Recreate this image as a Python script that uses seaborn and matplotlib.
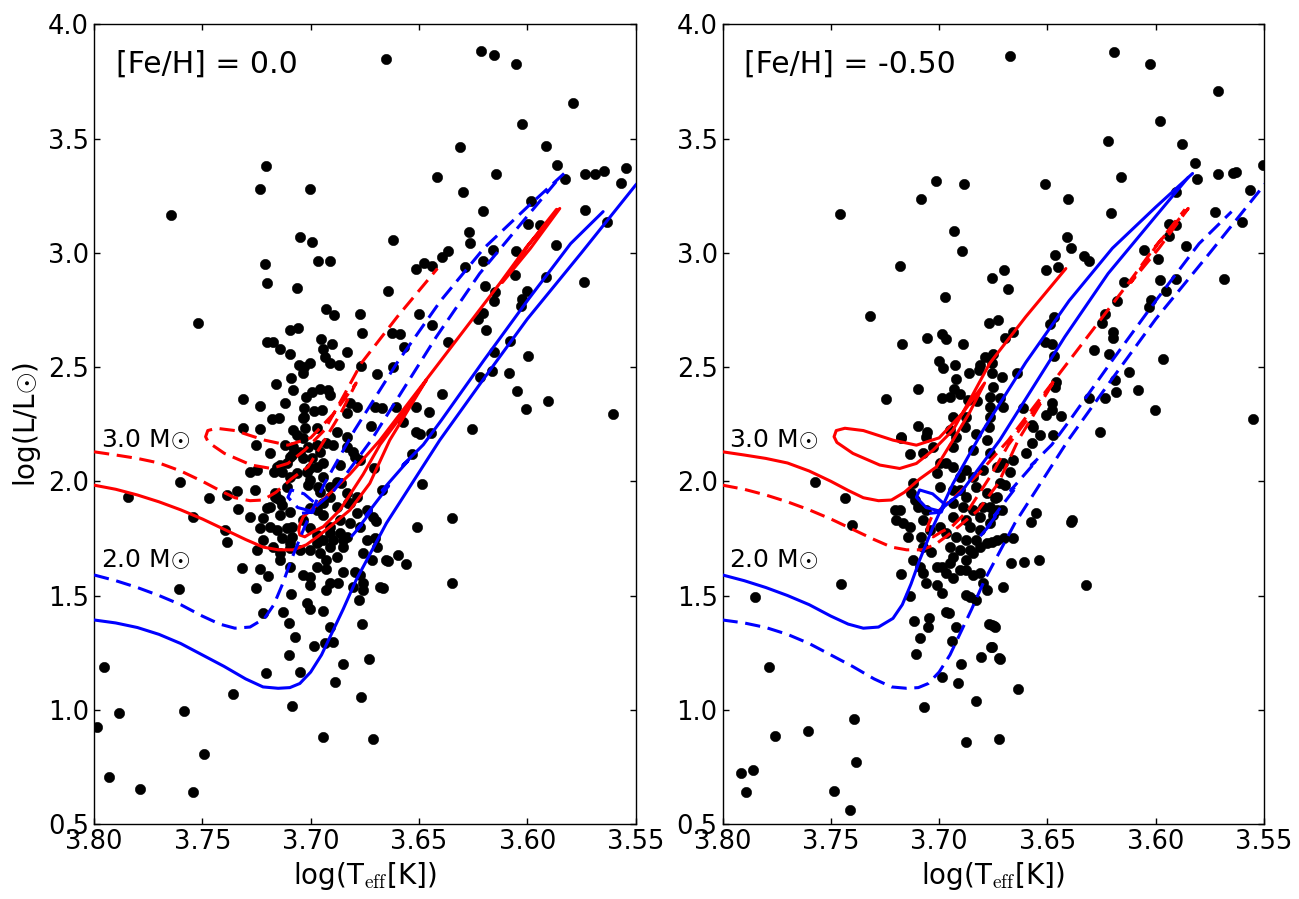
import numpy as np
import pandas as pd
import matplotlib
matplotlib.use("Agg")
import matplotlib.pyplot as plt
import seaborn as sns

# observed giants, columns: log Teff, log L
stars_feh00 = np.array([
    [3.665, 3.85], [3.7646, 3.167], [3.7208, 3.380], [3.7236, 3.280], [3.7005, 3.280],
    [3.7048, 3.070], [3.6996, 3.045], [3.7213, 2.952], [3.6964, 2.962], [3.6913, 2.962],
    [3.7202, 2.868], [3.7065, 2.848], [3.6645, 2.833], [3.7519, 2.693], [3.6927, 2.752],
    [3.689, 2.726], [3.6773, 2.730], [3.6765, 2.650], [3.7097, 2.661], [3.7059, 2.672],
    [3.7203, 2.610], [3.7173, 2.608], [3.7142, 2.577], [3.7097, 2.559], [3.6953, 2.622],
    [3.6942, 2.577], [3.6901, 2.600], [3.6934, 2.545], [3.6911, 2.518], [3.6834, 2.564],
    [3.6867, 2.511], [3.7054, 2.511], [3.703, 2.501], [3.7004, 2.516], [3.7035, 2.472],
    [3.6768, 2.505], [3.6696, 2.468], [3.7091, 2.453], [3.7161, 2.424], [3.7083, 2.400],
    [3.7311, 2.361], [3.7234, 2.330], [3.7119, 2.343], [3.7022, 2.367], [3.6996, 2.392],
    [3.6958, 2.402], [3.6922, 2.399], [3.6911, 2.377], [3.703, 2.319], [3.6985, 2.307],
    [3.6947, 2.311], [3.6819, 2.343], [3.6788, 2.326], [3.6832, 2.297], [3.718, 2.271],
    [3.7147, 2.275], [3.7311, 2.231], [3.7234, 2.227], [3.703, 2.282], [3.688, 2.216],
    [3.6704, 2.326], [3.6673, 2.319], [3.6722, 2.241],
    [3.6212, 3.883], [3.6152, 3.866], [3.6051, 3.826], [3.5788, 3.656], [3.6025, 3.564],
    [3.5914, 3.468], [3.6309, 3.461], [3.5862, 3.385], [3.6419, 3.332], [3.6144, 3.343],
    [3.5828, 3.323], [3.5735, 3.345], [3.5686, 3.343], [3.5648, 3.358], [3.5543, 3.373],
    [3.5566, 3.306], [3.6299, 3.266], [3.5981, 3.227], [3.6206, 3.183], [3.5735, 3.188],
    [3.5631, 3.133], [3.5995, 3.126], [3.5943, 3.122], [3.6619, 3.056], [3.6269, 3.089],
    [3.6266, 3.043], [3.6157, 3.011], [3.6053, 3.008], [3.5869, 3.035], [3.6364, 3.008],
    [3.6396, 2.982], [3.6478, 2.956], [3.6516, 2.927], [3.6441, 2.941], [3.6206, 2.965],
    [3.6286, 2.938], [3.5915, 2.895], [3.6058, 2.903], [3.5737, 2.873], [3.6193, 2.855],
    [3.6147, 2.829], [3.6152, 2.790], [3.6001, 2.833], [3.6023, 2.798], [3.6027, 2.766],
    [3.6498, 2.733], [3.6206, 2.737], [3.6226, 2.711], [3.6441, 2.686], [3.6192, 2.661],
    [3.6625, 2.651], [3.6589, 2.645], [3.6567, 2.588], [3.6364, 2.608], [3.6082, 2.615],
    [3.5995, 2.549], [3.6621, 2.501], [3.6153, 2.564], [3.6163, 2.482], [3.6086, 2.475],
    [3.6216, 2.455], [3.6046, 2.396], [3.6006, 2.317], [3.5903, 2.352], [3.5603, 2.295],
    [3.6393, 2.380], [3.6607, 2.326], [3.6512, 2.326], [3.6456, 2.304], [3.6255, 2.227],
    [3.6573, 2.259], [3.6512, 2.214], [3.6496, 2.206], [3.6444, 2.210],
    [3.7954, 1.186], [3.7886, 0.987], [3.7985, 0.926], [3.7931, 0.707], [3.7788, 0.655],
    [3.7545, 0.642], [3.7491, 0.805], [3.7585, 0.996], [3.736, 1.069], [3.7845, 1.932],
    [3.7603, 1.998], [3.7606, 1.528], [3.7542, 1.845], [3.747, 1.925], [3.7396, 1.787],
    [3.7388, 1.735], [3.7339, 1.957], [3.7334, 1.877], [3.7316, 1.622], [3.7254, 2.158],
    [3.728, 1.845], [3.7254, 1.531], [3.7234, 1.615], [3.7199, 1.587], [3.7249, 1.699],
    [3.7208, 1.160], [3.7219, 1.425], [3.717, 2.042], [3.7164, 1.932], [3.7203, 1.881],
    [3.7219, 1.838], [3.7234, 1.794], [3.7157, 1.787], [3.7134, 1.75], [3.7096, 1.728],
    [3.7142, 1.655], [3.7096, 1.626], [3.7091, 1.505], [3.7127, 1.429], [3.71, 1.381],
    [3.7073, 1.32], [3.7102, 1.24], [3.705, 1.167], [3.7088, 1.018], [3.6985, 1.28],
    [3.7016, 1.469], [3.7004, 1.44], [3.6942, 1.434], [3.6911, 1.364], [3.6942, 0.882],
    [3.6888, 1.12], [3.6853, 1.199], [3.6768, 1.057], [3.6714, 0.871], [3.673, 1.221],
    [3.6761, 1.375], [3.6779, 1.48], [3.6896, 1.298], [3.6935, 1.294], [3.7001, 1.546],
    [3.7034, 1.59], [3.7004, 1.582], [3.6927, 1.615], [3.685, 1.604], [3.6796, 1.604],
    [3.6911, 1.553], [3.6873, 1.553], [3.6804, 1.539], [3.6758, 1.524], [3.6927, 1.524],
    [3.6773, 1.59], [3.6758, 1.553], [3.6681, 1.539], [3.6666, 1.532], [3.665, 1.655],
    [3.6704, 1.75], [3.6669, 1.962], [3.6709, 2.056], [3.6862, 1.991], [3.6796, 2.107],
    [3.6834, 2.151], [3.6958, 2.129], [3.6896, 2.158], [3.6942, 2.078], [3.6865, 2.071],
    [3.7034, 2.1], [3.7004, 2.056], [3.7142, 2.071], [3.7096, 2.107], [3.7065, 2.035],
    [3.7111, 1.976], [3.7011, 1.983], [3.6958, 1.954], [3.6911, 1.932], [3.6942, 1.903],
    [3.688, 1.889], [3.7004, 1.881], [3.6942, 1.852], [3.6865, 1.83], [3.7034, 1.83],
    [3.7004, 1.794], [3.6973, 1.765], [3.6942, 1.743], [3.6911, 1.772], [3.6865, 1.772],
    [3.6834, 1.757], [3.685, 1.713], [3.7004, 1.699], [3.6958, 1.685], [3.6927, 1.655],
    [3.688, 1.67], [3.6973, 1.626], [3.6819, 1.816], [3.6788, 1.859], [3.6742, 1.874],
    [3.6712, 1.845], [3.6788, 1.932], [3.6819, 1.903], [3.7081, 2.224], [3.7034, 2.188],
    [3.7081, 2.151], [3.7119, 2.158], [3.7188, 2.122], [3.725, 2.049], [3.7165, 1.947],
    [3.7142, 1.918], [3.7096, 1.706], [3.7088, 1.801],
    [3.653, 2.118], [3.6486, 1.986], [3.6699, 1.827], [3.6346, 1.840], [3.6507, 1.801],
    [3.6645, 1.652], [3.6599, 1.677], [3.6562, 1.638], [3.6346, 1.553],
    [3.7034, 2.275], [3.7027, 2.231], [3.7065, 2.202], [3.6973, 2.231], [3.7088, 2.115],
    [3.7111, 2.078], [3.7134, 2.042], [3.7096, 2.02], [3.705, 2.129], [3.7011, 2.151],
    [3.6996, 2.1], [3.6973, 2.064], [3.6973, 2.158], [3.6927, 2.166], [3.6834, 2.195],
    [3.6804, 2.129], [3.6773, 2.093], [3.728, 2.042], [3.7157, 2.064], [3.7019, 2.042],
    [3.7004, 2.005], [3.6942, 2.02], [3.6965, 1.973], [3.6911, 1.976], [3.688, 1.998],
    [3.6834, 1.947], [3.7257, 1.962], [3.7388, 1.94], [3.7157, 1.925], [3.7134, 1.896],
    [3.7188, 1.889], [3.7096, 1.867], [3.7142, 1.852], [3.7188, 1.801], [3.7219, 1.743],
    [3.7111, 1.794], [3.7088, 1.757], [3.7173, 1.713], [3.7142, 1.685], [3.705, 1.699],
    [3.6973, 1.874], [3.6911, 1.801], [3.6896, 1.743], [3.685, 1.743], [3.6911, 1.713],
    [3.6973, 1.728], [3.6827, 1.903], [3.6773, 1.801], [3.6742, 1.743], [3.6696, 1.713],
    [3.6758, 1.685], [3.6719, 1.655],
])

stars_feh05 = np.array([
    [3.7456, 3.170], [3.7016, 3.313], [3.6886, 3.3], [3.7082, 3.234], [3.6933, 3.096],
    [3.6896, 3.008], [3.7179, 2.943], [3.6757, 2.89], [3.6971, 2.807], [3.7321, 2.724],
    [3.6769, 2.693], [3.6728, 2.705], [3.717, 2.602], [3.7054, 2.628], [3.6989, 2.643],
    [3.6966, 2.622], [3.6891, 2.599], [3.6999, 2.527], [3.6982, 2.497], [3.6925, 2.511],
    [3.6863, 2.476], [3.6812, 2.508], [3.6816, 2.486], [3.6789, 2.542], [3.6751, 2.559],
    [3.6754, 2.472], [3.692, 2.449], [3.7096, 2.405], [3.7244, 2.361], [3.6985, 2.365],
    [3.6951, 2.37], [3.6933, 2.406], [3.6905, 2.384], [3.6866, 2.355], [3.6823, 2.351],
    [3.6751, 2.413], [3.6766, 2.37], [3.6766, 2.326], [3.7096, 2.244], [3.7174, 2.195],
    [3.6874, 2.282], [3.6936, 2.282], [3.6882, 2.238], [3.692, 2.195], [3.6766, 2.282],
    [3.6769, 2.238], [3.7058, 2.216],
    [3.6674, 3.861], [3.6195, 3.879], [3.6025, 3.824], [3.5714, 3.708], [3.5982, 3.577],
    [3.6222, 3.49], [3.588, 3.475], [3.5819, 3.393], [3.6162, 3.332], [3.5811, 3.323],
    [3.5714, 3.345], [3.5645, 3.35], [3.563, 3.354], [3.5506, 3.383], [3.6513, 3.301],
    [3.6407, 3.234], [3.5908, 3.264], [3.5563, 3.274], [3.6208, 3.175], [3.5725, 3.179],
    [3.5603, 3.135], [3.5939, 3.128], [3.5908, 3.122], [3.6412, 3.07], [3.6393, 3.019],
    [3.6463, 2.99], [3.6452, 2.938], [3.6332, 2.985], [3.631, 2.965], [3.6507, 2.925],
    [3.67, 2.925], [3.6684, 2.842], [3.6053, 3.011], [3.5939, 3.074], [3.5862, 3.029],
    [3.599, 2.972], [3.5981, 2.882], [3.5908, 2.886], [3.5685, 2.886], [3.6146, 2.871],
    [3.5954, 2.833], [3.6181, 2.788], [3.6024, 2.793], [3.6031, 2.761], [3.6235, 2.731],
    [3.6247, 2.691], [3.6469, 2.717], [3.6489, 2.688], [3.6661, 2.654], [3.6697, 2.629],
    [3.6196, 2.654], [3.6198, 2.625], [3.6512, 2.61], [3.6481, 2.6], [3.6286, 2.574],
    [3.6216, 2.559], [3.5968, 2.536], [3.6469, 2.549], [3.6124, 2.479], [3.6642, 2.472],
    [3.6712, 2.457], [3.6758, 2.516], [3.6189, 2.443], [3.6184, 2.392], [3.6084, 2.4],
    [3.6005, 2.313], [3.5552, 2.273], [3.6235, 2.365], [3.6309, 2.365], [3.6461, 2.435],
    [3.6466, 2.413], [3.6612, 2.319], [3.6481, 2.311], [3.6507, 2.29], [3.6438, 2.285],
    [3.6481, 2.343], [3.672, 2.363], [3.6705, 2.326], [3.6569, 2.246], [3.6535, 2.202],
    [3.6474, 2.202], [3.6257, 2.216],
    [3.7575, 1.998], [3.7433, 1.928], [3.74, 1.808], [3.7852, 1.495], [3.7455, 1.549],
    [3.7787, 1.189], [3.7756, 0.887], [3.7606, 0.909], [3.7391, 0.958], [3.7382, 0.773],
    [3.7914, 0.722], [3.786, 0.738], [3.789, 0.639], [3.7487, 0.646], [3.741, 0.562],
    [3.7174, 2.188], [3.7136, 2.118], [3.707, 1.013], [3.6874, 0.858], [3.6832, 1.038],
    [3.6911, 1.119], [3.6989, 1.145], [3.6901, 1.2], [3.7108, 1.243], [3.694, 1.3],
    [3.709, 1.313], [3.7051, 1.364], [3.7048, 1.403], [3.7114, 1.388], [3.692, 1.364],
    [3.6966, 1.429], [3.6956, 1.422], [3.6808, 1.232], [3.6762, 1.276], [3.6769, 1.375],
    [3.6748, 1.367], [3.6723, 0.872], [3.6723, 1.225], [3.7174, 1.593], [3.7136, 1.499],
    [3.7205, 1.874], [3.7182, 1.874], [3.7197, 1.83], [3.7167, 1.816], [3.7136, 1.801],
    [3.7144, 1.757], [3.7113, 1.918], [3.7098, 1.889], [3.7059, 1.874], [3.7121, 1.991],
    [3.7128, 1.947], [3.7074, 1.83], [3.7043, 1.787], [3.7082, 1.757], [3.7074, 1.713],
    [3.7036, 1.692], [3.7121, 1.655], [3.709, 1.626], [3.7074, 1.597], [3.7059, 1.553],
    [3.7012, 1.546], [3.7012, 1.626], [3.6989, 1.626], [3.6966, 1.597], [3.6936, 1.575],
    [3.6905, 1.611], [3.6874, 1.611], [3.6843, 1.59], [3.6812, 1.597], [3.6797, 1.553],
    [3.6781, 1.524], [3.6989, 1.51], [3.6874, 1.502], [3.6859, 1.495], [3.6828, 1.48],
    [3.6997, 2.078], [3.6966, 2.078], [3.6936, 2.064], [3.7012, 2.035], [3.6905, 2.02],
    [3.6874, 2.049], [3.6843, 2.02], [3.6797, 2.049], [3.6735, 2.064], [3.6766, 2.122],
    [3.6997, 1.976], [3.6936, 1.962], [3.6905, 1.962], [3.6874, 1.932], [3.6828, 1.976],
    [3.6781, 1.947], [3.6735, 1.932], [3.6936, 1.903], [3.689, 1.889], [3.6843, 1.874],
    [3.6797, 1.889], [3.6735, 1.874], [3.6936, 1.845], [3.6874, 1.83], [3.6812, 1.845],
    [3.6766, 1.816], [3.6812, 1.787], [3.6859, 1.801], [3.6997, 1.801], [3.6966, 1.772],
    [3.692, 1.757], [3.6874, 1.743], [3.6828, 1.743], [3.6781, 1.728], [3.6735, 1.743],
    [3.6951, 1.713], [3.6905, 1.699], [3.6859, 1.699], [3.6812, 1.713], [3.6936, 1.67],
    [3.6874, 1.655], [3.6843, 1.685], [3.6951, 1.641], [3.6951, 2.224], [3.6828, 2.209],
    [3.6936, 2.151], [3.6843, 2.136], [3.6781, 2.18], [3.7059, 2.195], [3.7028, 2.151],
    [3.7074, 2.122],
    [3.6566, 2.238], [3.6573, 2.166], [3.6597, 2.122], [3.6658, 2.093], [3.6674, 2.042],
    [3.6705, 2.078], [3.672, 1.991], [3.6697, 1.983], [3.6743, 1.925], [3.6766, 1.889],
    [3.6751, 1.852], [3.6712, 1.874], [3.6554, 1.862], [3.6578, 1.82], [3.6386, 1.83],
    [3.6389, 1.823], [3.67, 1.75], [3.6661, 1.75], [3.6758, 1.735], [3.667, 1.644],
    [3.6606, 1.648], [3.6541, 1.655], [3.6705, 1.539], [3.6324, 1.547], [3.6758, 1.371],
    [3.6743, 1.364], [3.6758, 1.276], [3.6717, 1.224], [3.6637, 1.09],
])

# evolutionary tracks, [Fe/H] = 0.0
trk_z00_m30 = np.array([
    [3.80, 1.983], [3.79, 1.965], [3.78, 1.94], [3.77, 1.91], [3.76, 1.875],
    [3.75, 1.835], [3.74, 1.79], [3.73, 1.745], [3.722, 1.712], [3.715, 1.700],
    [3.708, 1.700], [3.702, 1.722], [3.6965, 1.76], [3.6911, 1.801], [3.6819, 1.874],
    [3.6727, 1.991], [3.6635, 2.18], [3.6466, 2.443], [3.657, 2.30], [3.668, 2.16],
    [3.6758, 2.03], [3.6865, 1.874], [3.6942, 1.801], [3.6989, 1.779], [3.7027, 1.757],
    [3.705, 1.765], [3.7055, 1.785], [3.705, 1.81], [3.7034, 1.845], [3.693, 1.93],
    [3.682, 2.03], [3.668, 2.18], [3.6466, 2.445], [3.6127, 2.866], [3.60, 3.03],
    [3.585, 3.194], [3.5985, 3.02], [3.6115, 2.87], [3.599, 3.04], [3.5865, 3.19],
])
trk_z00_m20_rgb = np.array([
    [3.80, 1.393], [3.79, 1.38], [3.78, 1.36], [3.77, 1.33], [3.76, 1.29],
    [3.75, 1.24], [3.74, 1.19], [3.73, 1.135], [3.722, 1.10], [3.715, 1.094],
    [3.7096, 1.097], [3.705, 1.115], [3.700, 1.165], [3.695, 1.24], [3.691, 1.32],
    [3.685, 1.44], [3.679, 1.568], [3.665, 1.817], [3.6404, 2.18], [3.62, 2.45],
    [3.60, 2.71], [3.575, 3.0], [3.55, 3.296], [3.53, 3.50],
])
trk_z00_m20_agb = np.array([
    [3.681, 1.76], [3.6765, 1.81], [3.6785, 1.79], [3.672, 1.87], [3.6745, 1.85],
    [3.664, 1.98], [3.667, 1.96], [3.655, 2.09], [3.6575, 2.07], [3.648, 2.16],
    [3.6396, 2.268], [3.62, 2.53], [3.60, 2.79], [3.58, 3.04], [3.565, 3.18],
])

# evolutionary tracks, [Fe/H] = -0.50
trk_z05_m30 = np.array([
    [3.80, 2.129], [3.79, 2.115], [3.78, 2.10], [3.77, 2.08], [3.76, 2.045],
    [3.75, 2.00], [3.742, 1.96], [3.735, 1.928], [3.728, 1.915], [3.722, 1.918],
    [3.716, 1.952], [3.709, 2.01], [3.7012, 2.063], [3.6936, 2.18], [3.686, 2.30],
    [3.679, 2.43], [3.689, 2.30], [3.700, 2.19], [3.7105, 2.158], [3.7213, 2.18],
    [3.735, 2.222], [3.7435, 2.232], [3.7475, 2.222], [3.7485, 2.195], [3.7472, 2.17],
    [3.7398, 2.122], [3.7274, 2.071], [3.7182, 2.056], [3.7105, 2.078], [3.7028, 2.136],
    [3.6936, 2.224], [3.685, 2.37], [3.6766, 2.517], [3.66, 2.72], [3.6415, 2.931],
])
trk_z05_m20_rgb = np.array([
    [3.80, 1.59], [3.79, 1.565], [3.78, 1.535], [3.77, 1.50], [3.76, 1.46],
    [3.75, 1.41], [3.742, 1.375], [3.735, 1.357], [3.728, 1.362], [3.7213, 1.40],
    [3.717, 1.46], [3.713, 1.55], [3.709, 1.655], [3.7028, 1.801], [3.6936, 1.99],
    [3.6797, 2.224], [3.66, 2.52], [3.64, 2.79], [3.62, 3.02], [3.60, 3.20],
    [3.583, 3.347],
])
trk_z05_m20_agb = np.array([
    [3.704, 1.86], [3.699, 1.865], [3.6975, 1.90], [3.703, 1.945], [3.709, 1.962],
    [3.7105, 1.93], [3.706, 1.885], [3.700, 1.87], [3.690, 1.95], [3.672, 2.18],
    [3.642, 2.632], [3.622, 2.909], [3.60, 3.16], [3.585, 3.33],
])

panel_titles = ["[Fe/H] = 0.0", "[Fe/H] = -0.50"]
mass_labels = ["3.0 M$\\odot$", "2.0 M$\\odot$"]


def tracks_frame(solid_feh):
    sets = [
        ("0.0", "3.0", trk_z00_m30), ("0.0", "2.0", trk_z00_m20_rgb), ("0.0", "2.0", trk_z00_m20_agb),
        ("-0.5", "3.0", trk_z05_m30), ("-0.5", "2.0", trk_z05_m20_rgb), ("-0.5", "2.0", trk_z05_m20_agb),
    ]
    parts = []
    for i, (feh, mass, arr) in enumerate(sets):
        parts.append(pd.DataFrame({
            "teff": arr[:, 0], "lum": arr[:, 1], "mass": mass, "seg": i,
            "kind": "solid" if feh == solid_feh else "dashed",
        }))
    return pd.concat(parts, ignore_index=True)


sns.set_style("ticks")
plt.rcParams["font.family"] = ["DejaVu Sans"]
plt.rcParams["mathtext.fontset"] = "cm"
plt.rcParams["text.color"] = "black"
plt.rcParams["axes.labelcolor"] = "black"
plt.rcParams["xtick.color"] = "black"
plt.rcParams["ytick.color"] = "black"
plt.rcParams["xtick.direction"] = "in"
plt.rcParams["ytick.direction"] = "in"
plt.rcParams["xtick.top"] = True
plt.rcParams["ytick.right"] = True
plt.rcParams["xtick.major.size"] = 4
plt.rcParams["ytick.major.size"] = 4
plt.rcParams["axes.edgecolor"] = "black"
plt.rcParams["axes.linewidth"] = 1.0
plt.rcParams["lines.solid_joinstyle"] = "round"
plt.rcParams["lines.dash_joinstyle"] = "round"

fig, axes = plt.subplots(1, 2, figsize=(12.99, 8.99), dpi=100)
fig.subplots_adjust(left=0.0724, right=0.9731, bottom=0.0834, top=0.973, wspace=0.1605)

for ax, stars, title, solid_feh in zip(axes, [stars_feh00, stars_feh05], panel_titles, ["0.0", "-0.5"]):
    sns.scatterplot(x=stars[:, 0], y=stars[:, 1], color="black", s=55,
                    edgecolor="black", linewidth=0.4, ax=ax, zorder=2)
    df = tracks_frame(solid_feh)
    sns.lineplot(data=df, x="teff", y="lum", hue="mass", style="kind", units="seg",
                 estimator=None, sort=False, palette={"3.0": "red", "2.0": "blue"},
                 dashes={"solid": "", "dashed": (5, 2.5)}, lw=2.2, legend=False,
                 ax=ax, zorder=3)
    ax.set_xlim(3.80, 3.55)
    ax.set_ylim(0.5, 4.0)
    ax.set_xticks(np.arange(3.55, 3.8001, 0.05))
    ax.set_yticks(np.arange(0.5, 4.0001, 0.5))
    ax.xaxis.set_major_formatter(matplotlib.ticker.FormatStrFormatter("%.2f"))
    ax.yaxis.set_major_formatter(matplotlib.ticker.FormatStrFormatter("%.1f"))
    ax.tick_params(labelsize=18.5, width=1, colors="black")
    ax.set_xlabel("log(T$_{\\rm eff}$[K])", fontsize=20)
    ax.set_ylabel("")
    ax.text(0.04, 0.94, title, transform=ax.transAxes, fontsize=21.5, va="baseline")
    ax.text(3.797, 2.15, mass_labels[0], fontsize=18, va="baseline")
    ax.text(3.797, 1.625, mass_labels[1], fontsize=18, va="baseline")
    for sp in ax.spines.values():
        sp.set_visible(True)

axes[0].set_ylabel("log(L/L$\\odot$)", fontsize=20)

fig.savefig("out.png", dpi=100)
